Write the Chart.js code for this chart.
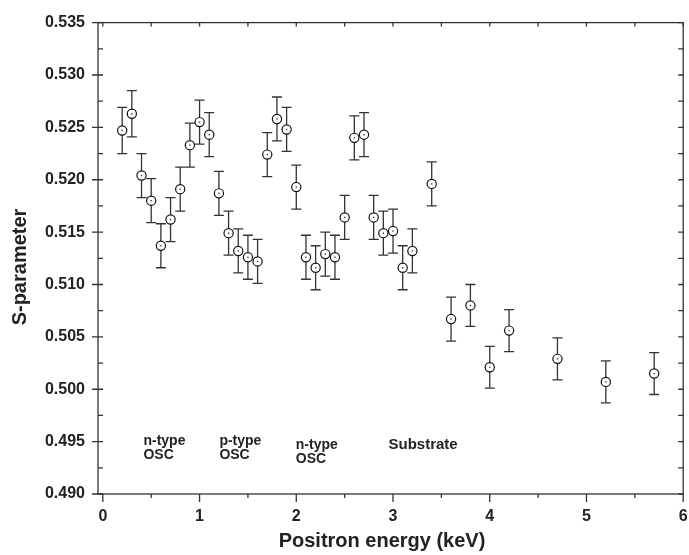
<!DOCTYPE html>
<html>
<head>
<meta charset="utf-8">
<script src="https://cdn.jsdelivr.net/npm/chart.js@4/dist/chart.umd.min.js"></script>
<style>
  html, body { margin: 0; padding: 0; background: #fff; }
  canvas { display: block; }
</style>
</head>
<body>
<canvas id="chart" width="689" height="555"></canvas>
<script>
// positron beam energy (keV) and measured S-parameter with its error
const energy = [0.2, 0.3, 0.4, 0.5, 0.6, 0.7, 0.8, 0.9, 1.0, 1.1, 1.2, 1.3, 1.4, 1.5, 1.6,
  1.7, 1.8, 1.9, 2.0, 2.1, 2.2, 2.3, 2.4, 2.5, 2.6, 2.7, 2.8, 2.9, 3.0, 3.1, 3.2,
  3.4, 3.6, 3.8, 4.0, 4.2, 4.7, 5.2, 5.7];
const sParam = [0.5247, 0.5263, 0.5204, 0.5180, 0.5137, 0.5162, 0.5191, 0.5233, 0.5255, 0.5243,
  0.5187, 0.5149, 0.5132, 0.5126, 0.5122, 0.5224, 0.5258, 0.5248, 0.5193, 0.5126,
  0.5116, 0.5129, 0.5126, 0.5164, 0.5240, 0.5243, 0.5164, 0.5149, 0.5151, 0.5116,
  0.5132, 0.5196, 0.5067, 0.5080, 0.5021, 0.5056, 0.5029, 0.5007, 0.5015];
const sError = [0.0022, 0.0022, 0.0021, 0.0021, 0.0021, 0.0021, 0.0021, 0.0021, 0.0021, 0.0021,
  0.0021, 0.0021, 0.0021, 0.0021, 0.0021, 0.0021, 0.0021, 0.0021, 0.0021, 0.0021,
  0.0021, 0.0021, 0.0021, 0.0021, 0.0021, 0.0021, 0.0021, 0.0021, 0.0021, 0.0021,
  0.0021, 0.0021, 0.0021, 0.0020, 0.0020, 0.0020, 0.0020, 0.0020, 0.0020];

const xTicks = [0, 1, 2, 3, 4, 5, 6];
const yTicks = [0.490, 0.495, 0.500, 0.505, 0.510, 0.515, 0.520, 0.525, 0.530, 0.535];

// layer labels inside the plot
const layerLabels = [
  { lines: ['n-type', 'OSC'], x: 0.42, y: 0.4947, size: 14 },
  { lines: ['p-type', 'OSC'], x: 1.205, y: 0.4947, size: 14 },
  { lines: ['n-type', 'OSC'], x: 1.995, y: 0.4943, size: 14 },
  { lines: ['Substrate'], x: 2.953, y: 0.4943, size: 15 }
];

const FONT = '"Liberation Sans", Arial, sans-serif';
const INK = '#222';

const points = energy.map((e, i) => ({ x: e, y: sParam[i] }));

// vertical error bars with caps, drawn under the markers
const errorBars = {
  id: 'errorBars',
  beforeDatasetsDraw(chart) {
    const { ctx, scales: { x, y } } = chart;
    ctx.save();
    ctx.strokeStyle = '#333';
    ctx.lineWidth = 1.3;
    ctx.beginPath();
    energy.forEach((e, i) => {
      const px = x.getPixelForValue(e);
      const top = y.getPixelForValue(sParam[i] + sError[i]);
      const bot = y.getPixelForValue(sParam[i] - sError[i]);
      ctx.moveTo(px, top); ctx.lineTo(px, bot);
      ctx.moveTo(px - 5, top); ctx.lineTo(px + 5, top);
      ctx.moveTo(px - 5, bot); ctx.lineTo(px + 5, bot);
    });
    ctx.stroke();
    ctx.restore();
  },
  afterDatasetsDraw(chart) {
    // small dot in the centre of each open circle
    const { ctx } = chart;
    ctx.save();
    ctx.fillStyle = '#444';
    chart.getDatasetMeta(0).data.forEach(pt => {
      ctx.fillRect(pt.x - 0.7, pt.y - 0.7, 1.4, 1.4);
    });
    ctx.restore();
  }
};

// box frame with ticks on all four sides, axis titles and layer labels
const frame = {
  id: 'frame',
  afterDraw(chart) {
    const { ctx, chartArea: a, scales: { x, y } } = chart;
    ctx.save();
    ctx.strokeStyle = '#333';
    ctx.lineWidth = 1.3;
    ctx.strokeRect(a.left, a.top, a.right - a.left, a.bottom - a.top);
    ctx.beginPath();
    for (let i = 0; i <= 12; i++) {
      const px = x.getPixelForValue(i * 0.5);
      ctx.moveTo(px, a.bottom); ctx.lineTo(px, a.bottom + (i % 2 === 0 ? 8 : 4));
      ctx.moveTo(px, a.top); ctx.lineTo(px, a.top + 4);
    }
    for (let i = 0; i <= 18; i++) {
      const py = y.getPixelForValue(0.49 + i * 0.0025);
      ctx.moveTo(a.left, py); ctx.lineTo(a.left + 5, py);
      ctx.moveTo(a.right, py); ctx.lineTo(a.right - 5, py);
      if (i % 2 === 0) { ctx.moveTo(a.left, py); ctx.lineTo(a.left - 6, py); }
    }
    ctx.stroke();

    ctx.fillStyle = INK;
    ctx.font = 'bold 20px ' + FONT;
    ctx.textAlign = 'center';
    ctx.textBaseline = 'alphabetic';
    ctx.fillText('Positron energy (keV)', 382, 546.5);
    ctx.save();
    ctx.translate(26, 267);
    ctx.rotate(-Math.PI / 2);
    ctx.fillText('S-parameter', 0, 0);
    ctx.restore();

    ctx.textAlign = 'left';
    layerLabels.forEach(l => {
      ctx.font = 'bold ' + l.size + 'px ' + FONT;
      const px = x.getPixelForValue(l.x);
      const py = y.getPixelForValue(l.y);
      l.lines.forEach((t, k) => ctx.fillText(t, px, py + k * 14));
    });
    ctx.restore();
  }
};

new Chart(document.getElementById('chart'), {
  type: 'scatter',
  data: {
    datasets: [{
      data: points,
      showLine: false,
      pointRadius: 4.6,
      pointHoverRadius: 4.6,
      pointBorderWidth: 1.2,
      pointBackgroundColor: '#fff',
      pointBorderColor: '#111'
    }]
  },
  options: {
    responsive: false,
    animation: false,
    devicePixelRatio: 1,
    layout: { padding: { top: 15, right: 2.5, left: 0, bottom: 0 } },
    plugins: { legend: { display: false }, tooltip: { enabled: false } },
    scales: {
      x: {
        type: 'linear',
        min: -0.05,
        max: 6,
        grid: { display: false, drawTicks: false },
        border: { display: false },
        afterBuildTicks: s => { s.ticks = xTicks.map(v => ({ value: v })); },
        afterFit: s => { s.height = 61; s.paddingLeft = 0; s.paddingRight = 0; },
        ticks: {
          padding: 13,
          color: INK,
          font: { family: FONT, size: 16, weight: 'bold' },
          callback: v => String(v)
        }
      },
      y: {
        type: 'linear',
        min: 0.490,
        max: 0.535,
        grid: { display: false, drawTicks: false },
        border: { display: false },
        afterBuildTicks: s => { s.ticks = yTicks.map(v => ({ value: v })); },
        afterFit: s => { s.width = 98; },
        ticks: {
          padding: 13,
          color: INK,
          font: { family: FONT, size: 16, weight: 'bold' },
          callback: v => Number(v).toFixed(3)
        }
      }
    }
  },
  plugins: [errorBars, frame]
});
</script>
</body>
</html>
